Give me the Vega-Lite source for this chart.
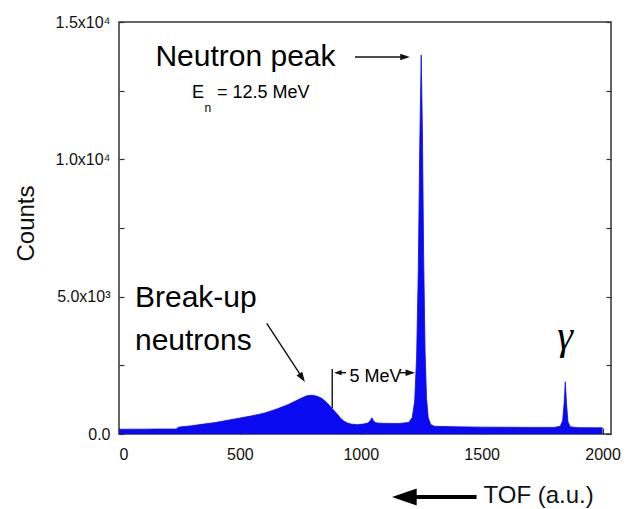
{
  "$schema": "https://vega.github.io/schema/vega-lite/v6.json",
  "width": 492,
  "height": 412,
  "autosize": "none",
  "padding": {"left": 119, "top": 22, "right": 20, "bottom": 75},
  "background": "white",
  "config": {
    "view": {"stroke": "#333333", "strokeWidth": 1.5},
    "font": "Liberation Sans",
    "axis": {"grid": false, "domain": false, "tickColor": "#333333", "tickWidth": 1.2, "labelColor": "#111111", "titleColor": "#111111", "labelFont": "Liberation Sans", "titleFont": "Liberation Sans", "titleFontWeight": "normal"}
  },
  "datasets": {
    "spectrum": [
      {"x": 0, "counts": 170}, {"x": 50, "counts": 175}, {"x": 100, "counts": 175}, {"x": 150, "counts": 180}, {"x": 200, "counts": 180}, {"x": 238, "counts": 180},
      {"x": 245, "counts": 250}, {"x": 300, "counts": 300}, {"x": 350, "counts": 360}, {"x": 400, "counts": 420}, {"x": 450, "counts": 500},
      {"x": 500, "counts": 580}, {"x": 550, "counts": 660}, {"x": 600, "counts": 760}, {"x": 650, "counts": 900}, {"x": 700, "counts": 1070},
      {"x": 730, "counts": 1200}, {"x": 760, "counts": 1330}, {"x": 780, "counts": 1400}, {"x": 800, "counts": 1410}, {"x": 820, "counts": 1370},
      {"x": 840, "counts": 1290}, {"x": 860, "counts": 1140}, {"x": 875, "counts": 990}, {"x": 890, "counts": 850}, {"x": 905, "counts": 700},
      {"x": 918, "counts": 560}, {"x": 930, "counts": 470}, {"x": 945, "counts": 400}, {"x": 960, "counts": 360}, {"x": 985, "counts": 340},
      {"x": 1010, "counts": 360}, {"x": 1030, "counts": 400}, {"x": 1040, "counts": 500}, {"x": 1046, "counts": 590}, {"x": 1052, "counts": 480},
      {"x": 1062, "counts": 410}, {"x": 1080, "counts": 390}, {"x": 1120, "counts": 385}, {"x": 1160, "counts": 385}, {"x": 1198, "counts": 420},
      {"x": 1213, "counts": 600}, {"x": 1223, "counts": 1200}, {"x": 1231, "counts": 2800}, {"x": 1238, "counts": 6000}, {"x": 1244, "counts": 10500},
      {"x": 1250, "counts": 13800}, {"x": 1255, "counts": 11000}, {"x": 1260, "counts": 6500}, {"x": 1266, "counts": 3000}, {"x": 1272, "counts": 1300},
      {"x": 1279, "counts": 600}, {"x": 1289, "counts": 350}, {"x": 1305, "counts": 280}, {"x": 1400, "counts": 260}, {"x": 1500, "counts": 250},
      {"x": 1600, "counts": 245}, {"x": 1700, "counts": 240}, {"x": 1800, "counts": 240}, {"x": 1825, "counts": 280}, {"x": 1835, "counts": 480},
      {"x": 1841, "counts": 1100}, {"x": 1846, "counts": 1900}, {"x": 1851, "counts": 1100}, {"x": 1857, "counts": 450}, {"x": 1866, "counts": 260},
      {"x": 1900, "counts": 230}, {"x": 2000, "counts": 225}
    ]
  },
  "resolve": {"axis": {"x": "shared", "y": "independent"}},
  "layer": [
    {
      "data": {"name": "spectrum"},
      "mark": {"type": "area", "color": "#0a0af0", "interpolate": "linear"},
      "encoding": {
        "x": {"field": "x", "type": "quantitative", "scale": {"domain": [0, 2035], "nice": false, "zero": false},
          "axis": {"orient": "bottom", "values": [0, 500, 1000, 1500, 2000], "format": "d", "tickSize": -6, "labelFontSize": 16, "labelPadding": 18,
            "title": "TOF (a.u.)", "titleFontSize": 24, "titleX": 364, "titleY": 68, "titleAlign": "left", "titleBaseline": "alphabetic"}},
        "y": {"field": "counts", "type": "quantitative", "scale": {"domain": [0, 15000], "nice": false, "zero": false},
          "axis": {"orient": "left", "values": [0, 2500, 5000, 7500, 10000, 12500, 15000], "tickSize": -5, "labelFontSize": 16, "labelPadding": 14,
            "labelExpr": "datum.value == 0 ? '0.0' : datum.value == 5000 ? '5.0x10³' : datum.value == 10000 ? '1.0x10⁴' : datum.value == 15000 ? '1.5x10⁴' : ''",
            "title": "Counts", "titleFontSize": 24, "titleX": -86, "titleY": 201, "titleAlign": "center", "titleBaseline": "alphabetic", "titleAngle": -90}}
      }
    },
    {
      "data": {"name": "spectrum"},
      "mark": {"type": "line", "color": "#0a0af0", "strokeWidth": 0.8},
      "encoding": {
        "x": {"field": "x", "type": "quantitative", "scale": {"domain": [0, 2035], "nice": false, "zero": false}},
        "y": {"field": "counts", "type": "quantitative", "scale": {"domain": [0, 15000], "nice": false, "zero": false},
          "axis": {"orient": "right", "values": [0, 2500, 5000, 7500, 10000, 12500, 15000], "tickSize": -5, "labels": false, "title": null}}
      }
    },
    {
      "data": {"values": [
        {"x": 976, "y": 13727, "x2": 1190, "y2": 13727},
        {"x": 611, "y": 4031, "x2": 762, "y2": 2000},
        {"x": 882, "y": 2367, "x2": 882, "y2": 947},
        {"x": 900, "y": 2232, "x2": 939, "y2": 2232},
        {"x": 1162, "y": 2232, "x2": 1215, "y2": 2232}
      ]},
      "mark": {"type": "rule", "color": "#111111", "strokeWidth": 1.4},
      "encoding": {
        "x": {"field": "x", "type": "quantitative", "scale": {"domain": [0, 2035], "nice": false, "zero": false}},
        "y": {"field": "y", "type": "quantitative", "scale": {"domain": [0, 15000], "nice": false, "zero": false}, "axis": null},
        "x2": {"field": "x2"},
        "y2": {"field": "y2"}
      }
    },
    {
      "data": {"values": [{"x": 1183, "y": -2293, "x2": 1479, "y2": -2293}]},
      "mark": {"type": "rule", "color": "#000000", "strokeWidth": 4},
      "encoding": {
        "x": {"field": "x", "type": "quantitative", "scale": {"domain": [0, 2035], "nice": false, "zero": false}},
        "y": {"field": "y", "type": "quantitative", "scale": {"domain": [0, 15000], "nice": false, "zero": false}, "axis": null},
        "x2": {"field": "x2"},
        "y2": {"field": "y2"}
      }
    },
    {
      "data": {"values": [{"x": 1183, "y": -2293}]},
      "mark": {"type": "point", "shape": "M-1,0L0.9,-0.65L0.9,0.65Z", "size": 676, "filled": true, "color": "#000000", "opacity": 1},
      "encoding": {
        "x": {"field": "x", "type": "quantitative", "scale": {"domain": [0, 2035], "nice": false, "zero": false}},
        "y": {"field": "y", "type": "quantitative", "scale": {"domain": [0, 15000], "nice": false, "zero": false}, "axis": null}
      }
    },
    {
      "data": {"values": [{"x": 1182, "y": 13727}, {"x": 1204, "y": 2232}]},
      "mark": {"type": "point", "shape": "M1,0L-0.9,-0.65L-0.9,0.65Z", "size": 100, "filled": true, "color": "#111111", "opacity": 1},
      "encoding": {
        "x": {"field": "x", "type": "quantitative", "scale": {"domain": [0, 2035], "nice": false, "zero": false}},
        "y": {"field": "y", "type": "quantitative", "scale": {"domain": [0, 15000], "nice": false, "zero": false}, "axis": null}
      }
    },
    {
      "data": {"values": [{"x": 906, "y": 2232}]},
      "mark": {"type": "point", "shape": "M-1,0L0.9,-0.65L0.9,0.65Z", "size": 64, "filled": true, "color": "#111111", "opacity": 1},
      "encoding": {
        "x": {"field": "x", "type": "quantitative", "scale": {"domain": [0, 2035], "nice": false, "zero": false}},
        "y": {"field": "y", "type": "quantitative", "scale": {"domain": [0, 15000], "nice": false, "zero": false}, "axis": null}
      }
    },
    {
      "data": {"values": [{"x": 757, "y": 2054}]},
      "mark": {"type": "point", "shape": "M0,-1L0.65,0.9L-0.65,0.9Z", "size": 112, "angle": 147, "filled": true, "color": "#111111", "opacity": 1},
      "encoding": {
        "x": {"field": "x", "type": "quantitative", "scale": {"domain": [0, 2035], "nice": false, "zero": false}},
        "y": {"field": "y", "type": "quantitative", "scale": {"domain": [0, 15000], "nice": false, "zero": false}, "axis": null}
      }
    },
    {
      "data": {"values": [{"x": 523, "y": 13395, "label": "Neutron peak"}]},
      "mark": {"type": "text", "align": "center", "baseline": "alphabetic", "fontSize": 30, "font": "Liberation Sans", "fill": "#000000"},
      "encoding": {
        "x": {"field": "x", "type": "quantitative", "scale": {"domain": [0, 2035], "nice": false, "zero": false}},
        "y": {"field": "y", "type": "quantitative", "scale": {"domain": [0, 15000], "nice": false, "zero": false}, "axis": null},
        "text": {"field": "label"}
      }
    },
    {
      "data": {"values": [{"x": 66, "y": 4624, "label": "Break-up"}, {"x": 66, "y": 3058, "label": "neutrons"}]},
      "mark": {"type": "text", "align": "left", "baseline": "alphabetic", "fontSize": 30, "font": "Liberation Sans", "fill": "#000000"},
      "encoding": {
        "x": {"field": "x", "type": "quantitative", "scale": {"domain": [0, 2035], "nice": false, "zero": false}},
        "y": {"field": "y", "type": "quantitative", "scale": {"domain": [0, 15000], "nice": false, "zero": false}, "axis": null},
        "text": {"field": "label"}
      }
    },
    {
      "data": {"values": [{"x": 302, "y": 12223, "label": "E"}, {"x": 405, "y": 12223, "label": "= 12.5 MeV"}]},
      "mark": {"type": "text", "align": "left", "baseline": "alphabetic", "fontSize": 18, "font": "Liberation Sans", "fill": "#000000"},
      "encoding": {
        "x": {"field": "x", "type": "quantitative", "scale": {"domain": [0, 2035], "nice": false, "zero": false}},
        "y": {"field": "y", "type": "quantitative", "scale": {"domain": [0, 15000], "nice": false, "zero": false}, "axis": null},
        "text": {"field": "label"}
      }
    },
    {
      "data": {"values": [{"x": 354, "y": 11724, "label": "n"}]},
      "mark": {"type": "text", "align": "left", "baseline": "alphabetic", "fontSize": 12, "font": "Liberation Sans", "fill": "#000000", "color": "#000000"},
      "encoding": {
        "x": {"field": "x", "type": "quantitative", "scale": {"domain": [0, 2035], "nice": false, "zero": false}},
        "y": {"field": "y", "type": "quantitative", "scale": {"domain": [0, 15000], "nice": false, "zero": false}, "axis": null},
        "text": {"field": "label"}
      }
    },
    {
      "data": {"values": [{"x": 1061, "y": 1904, "label": "5 MeV"}]},
      "mark": {"type": "text", "align": "center", "baseline": "alphabetic", "fontSize": 18, "font": "Liberation Sans", "fill": "#000000"},
      "encoding": {
        "x": {"field": "x", "type": "quantitative", "scale": {"domain": [0, 2035], "nice": false, "zero": false}},
        "y": {"field": "y", "type": "quantitative", "scale": {"domain": [0, 15000], "nice": false, "zero": false}, "axis": null},
        "text": {"field": "label"}
      }
    },
    {
      "data": {"values": [{"x": 1845, "y": 3095, "label": "γ"}]},
      "mark": {"type": "text", "align": "center", "baseline": "alphabetic", "fontSize": 40, "font": "Liberation Serif", "fontStyle": "italic", "fill": "#000000"},
      "encoding": {
        "x": {"field": "x", "type": "quantitative", "scale": {"domain": [0, 2035], "nice": false, "zero": false}},
        "y": {"field": "y", "type": "quantitative", "scale": {"domain": [0, 15000], "nice": false, "zero": false}, "axis": null},
        "text": {"field": "label"}
      }
    }
  ]
}
